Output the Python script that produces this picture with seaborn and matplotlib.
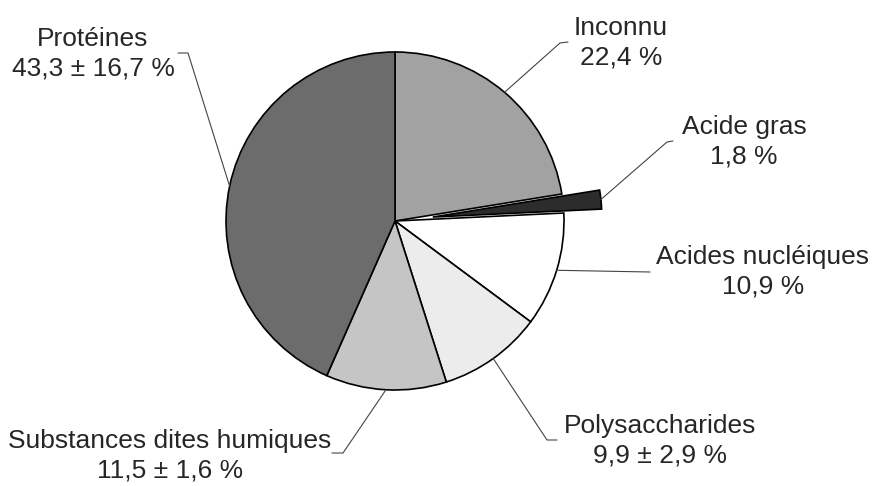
import numpy as np
import matplotlib
matplotlib.use('Agg')
import matplotlib.pyplot as plt
import seaborn as sns

# composition (%)
categories = ['Inconnu', 'Acide gras', 'Acides nucléiques', 'Polysaccharides',
              'Substances dites humiques', 'Protéines']
values = [22.4, 1.8, 10.9, 9.9, 11.5, 43.3]
value_labels = ['22,4 %', '1,8 %', '10,9 %', '9,9 ± 2,9 %', '11,5 ± 1,6 %', '43,3 ± 16,7 %']
colors = ['#a2a2a2', '#2c2c2c', '#ffffff', '#ececec', '#c5c5c5', '#6c6c6c']

sns.set_style('white')
plt.rcParams['font.family'] = ['Liberation Sans', 'DejaVu Sans']

W, H = 873, 486
fig = plt.figure(figsize=(W / 100, H / 100), dpi=100)
ax = fig.add_axes([0, 0, 1, 1])

cx, cy, r = 395, H - 221, 169
explode = [0, 38, 0, 0, 0, 0]
wedges, _ = ax.pie(values, colors=colors, startangle=90, counterclock=False,
                   center=(cx, cy), radius=r, explode=explode,
                   wedgeprops=dict(edgecolor='black', linewidth=1.2))
ax.set_xlim(0, W)
ax.set_ylim(0, H)
ax.set_aspect('equal')
ax.axis('off')

# label layout in pixels (y from top): text centre, elbow, end of leader
label_pos = [(621, 43), (744, 142), (763, 272), (660, 441), (170, 456), (93, 54)]
elbows = [(560, 43), (667, 142), (650, 272), (547, 440), (343, 453), (188, 53)]
ends = [(568, 42), (673, 141), (650, 272), (557, 440), (332, 453), (178, 53)]

for w, name, val, (tx, ty), (ex, ey), (fx, fy) in zip(
        wedges, categories, value_labels, label_pos, elbows, ends):
    th = np.deg2rad((w.theta1 + w.theta2) / 2)
    ax_, ay_ = w.center[0] + w.r * np.cos(th), w.center[1] + w.r * np.sin(th)
    ax.plot([ax_, ex, fx], [ay_, H - ey, H - fy], color='#444444', lw=0.8,
            solid_joinstyle='miter')
    ax.text(tx, H - ty, f'{name}\n{val}', ha='center', va='center',
            fontsize=19, linespacing=1.3, multialignment='center')

fig.savefig('out.png', dpi=100)
